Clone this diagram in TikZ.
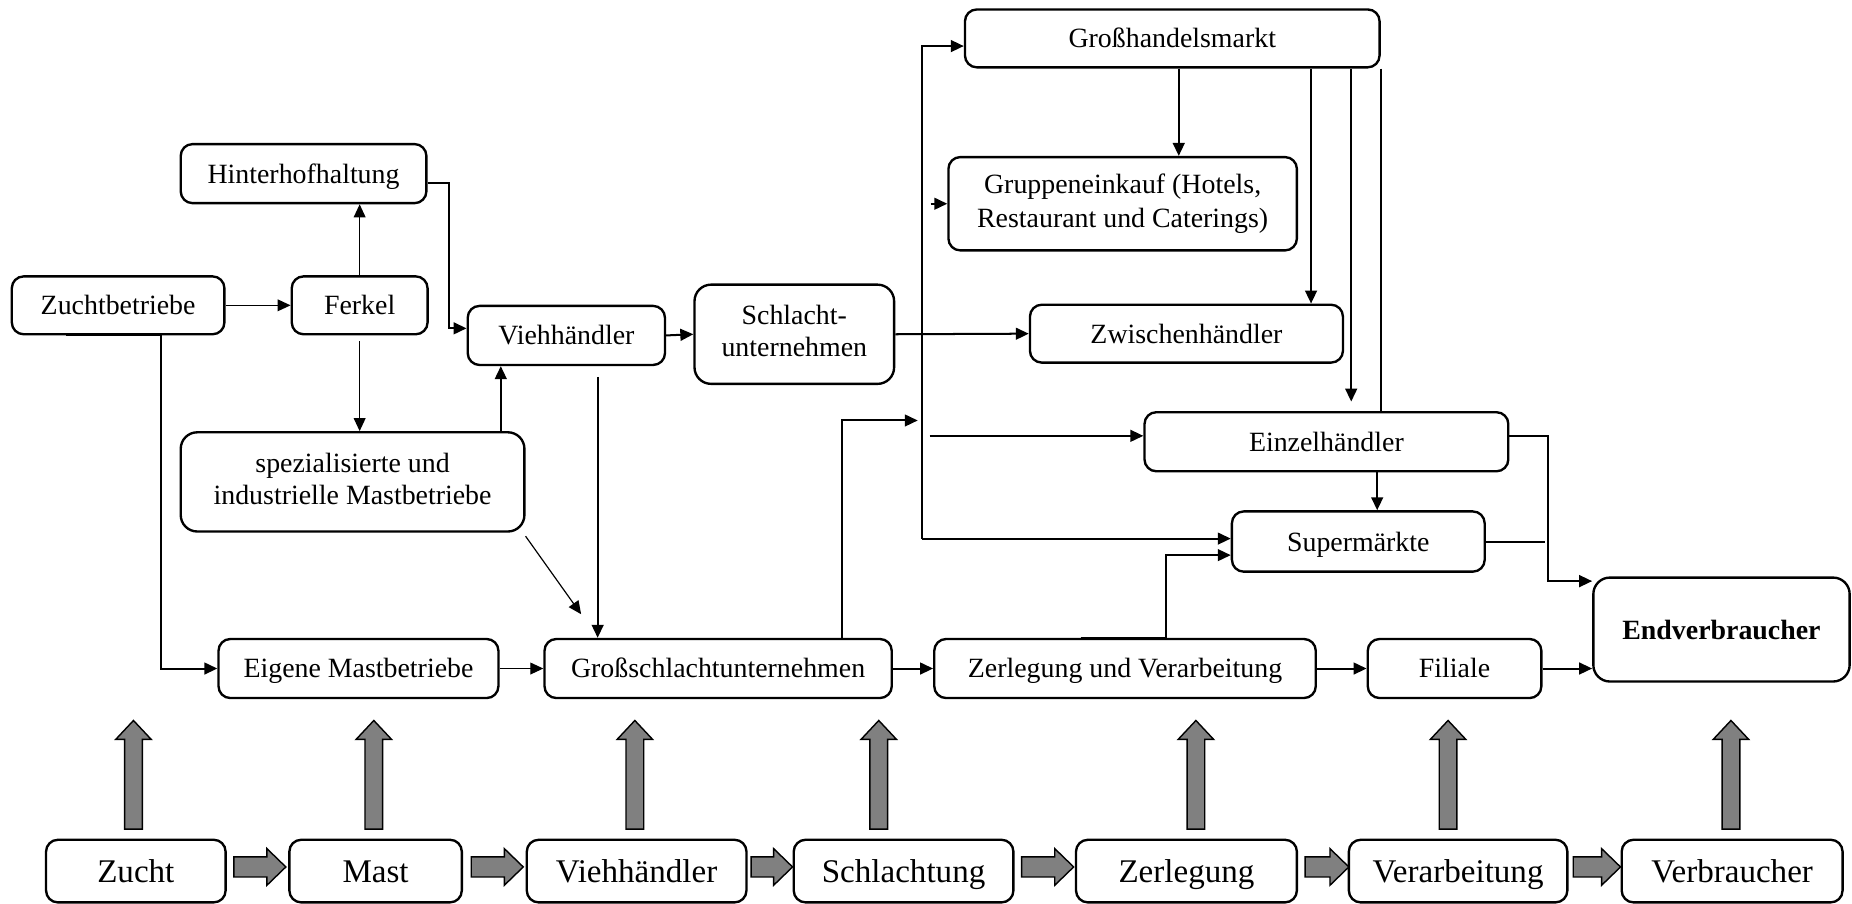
\documentclass[tikz,border=0pt]{standalone}
\usepackage{fontspec}
\setmainfont{Liberation Serif}
\usetikzlibrary{arrows.meta}
% invisible rule giving every line of a box the same height and depth
\newcommand\tstrut{\rule[-0.22em]{0pt}{1.12em}}
\tikzset{
  box/.style={draw, line width=1pt, rounded corners=5pt, inner sep=0pt, align=center,
    font=\fontsize{11.8}{13.5}\selectfont,
    execute at begin node={\tstrut}, execute at end node={\tstrut}},
  stage/.style={font=\fontsize{14}{16}\selectfont},
  ln/.style={line width=0.85pt},
  arr/.style={ln, -{Triangle[length=5.5pt,width=5pt]}},
  thinarr/.style={line width=0.5pt, -{Triangle[length=5.5pt,width=5pt]}},
  fat/.style={draw, line width=0.6pt, fill=black!50, line join=miter},
}
% box from corner (x1,y1) to (x2,y2), in 0.5pt units, y downwards
\newcommand\bx[7][]{\node[box,#1,minimum width={(#5-#3)*0.5pt},minimum height={(#6-#4)*0.5pt}]
  (#2) at ({(#3+#5)/2},{(#4+#6)/2}) {#7};}
% broad grey arrow pointing up, base centre at #1
\newcommand\upfat[1]{\draw[fat] (#1) ++(-7.5,0) -- ++(0,-76) -- ++(-7.5,0) -- ++(15,-16)
  -- ++(15,16) -- ++(-7.5,0) -- ++(0,76) -- cycle;}
% broad grey arrow pointing right, starting at #1 with length #2
\newcommand\rightfat[2]{\draw[fat] (#1) ++(0,-8.5) -- ++({#2-16},0) -- ++(0,-7) -- ++(16,15.5)
  -- ++(-16,15.5) -- ++(0,-7) -- ++({16-#2},0) -- cycle;}
\begin{document}
\begin{tikzpicture}[x=0.5pt,y=-0.5pt]
\useasboundingbox (0,0) rectangle (1568,765);

% upper chain
\bx{gh}{817}{8}{1168}{57}{Großhandelsmarkt}
\bx{hh}{153}{122}{361}{172}{Hinterhofhaltung}
\bx[font=\fontsize{11.8}{14.5}\selectfont]{gr}{803}{133}{1098}{212}{Gruppeneinkauf (Hotels,\\Restaurant und Caterings)}
\bx{zb}{10}{234}{190}{283}{Zuchtbetriebe}
\bx{fk}{247}{234}{362}{283}{Ferkel}
\bx{vh}{396}{259}{563}{309}{Viehhändler}
\bx[rounded corners=7pt]{su}{588}{241}{757}{325}{Schlacht-\\unternehmen}
\bx{zw}{872}{258}{1137}{307}{Zwischenhändler}
\bx[rounded corners=7pt]{sp}{153}{366}{444}{450}{spezialisierte und\\industrielle Mastbetriebe}
\bx{ez}{969}{349}{1277}{399}{Einzelhändler}
\bx{sm}{1043}{433}{1257}{484}{Supermärkte}
\bx[rounded corners=7pt]{ev}{1349}{489}{1566}{577}{\bfseries Endverbraucher}
\bx{eig}{185}{541}{422}{591}{Eigene Mastbetriebe}
\bx{gs}{461}{541}{755}{591}{Großschlachtunternehmen}
\bx{zl}{791}{541}{1114}{591}{Zerlegung und Verarbeitung}
\bx{fi}{1158}{541}{1305}{591}{Filiale}

% stages
\bx[stage]{b1}{39}{711}{191}{764}{Zucht}
\bx[stage]{b2}{245}{711}{391}{764}{Mast}
\bx[stage]{b3}{446}{711}{632}{764}{Viehhändler}
\bx[stage]{b4}{672}{711}{858}{764}{Schlachtung}
\bx[stage]{b5}{911}{711}{1098}{764}{Zerlegung}
\bx[stage]{b6}{1142}{711}{1327}{764}{Verarbeitung}
\bx[stage]{b7}{1373}{711}{1560}{764}{Verbraucher}

% left part
\draw[thinarr] (zb.east) -- (fk.west);
\draw[thinarr] (fk.north) -- (fk.north |- hh.south);
\draw[thinarr] ([yshift=-2.5pt]fk.south) -- (fk.south |- sp.north);
\draw[arr] ([yshift=-4pt]hh.east) -- ++(18,0) |- ([yshift=3pt]vh.west);
\path ([xshift=-10.5pt]sp.north east) coordinate (spup);
\draw[arr] (spup) -- (spup |- vh.south);
\draw[arr] ([xshift=23.5pt]zb.south west) -- ([xshift=63.5pt]zb.south west) |- (eig.west);
\draw[thinarr] (eig.east) -- (gs.west);
\draw[thinarr] ([yshift=-1.5pt]sp.south east) -- ([xshift=16pt,yshift=10pt]gs.north west);
\path ([xshift=13.25pt,yshift=-4.5pt]vh.south) coordinate (vhdown);
\draw[arr] (vhdown) -- (vhdown |- gs.north);
\draw[arr] (vh.east) -- (su.west);
\draw[arr] (su.east) -- (zw.west);

% distribution line
\coordinate (busmid) at (781,356);
\coordinate (busbot) at (781,456);
\coordinate (busr) at (787,369);
\draw[arr, shorten >=2pt] ([xshift=52.5pt]gs.north) |- (busmid);
\draw[arr] (busbot) |- ([yshift=-3.25pt]gh.west);
\draw[arr] (busbot) -- (busbot -| sm.west);
\draw[arr] ([xshift=-7pt]gr.west) -- (gr.west);
\draw[arr] (busr) -- (busr -| ez.west);

% from the wholesale market
\path ([xshift=2.75pt]gh.south) coordinate (g1);
\draw[arr] (g1) -- (g1 |- gr.north);
\path ([xshift=-29.5pt]gh.south east) coordinate (g2);
\draw[arr] (g2) -- (g2 |- zw.north);
\path ([xshift=-12.5pt]gh.south east) coordinate (g3);
\draw[arr, shorten >=4pt] (g3) -- (g3 |- ez.north);
\draw[ln] (gh.south east) -- (gh.south east |- ez.north);

% retail
\path ([xshift=21.5pt]ez.south) coordinate (e2);
\draw[arr] (e2) -- (e2 |- sm.north);
\draw[arr] ([yshift=2.5pt]ez.east) -- ++(33,0) |- ([yshift=-2pt]ev.north west);
\draw[ln] (sm.east) -- ++(50,0);

% lower chain
\draw[arr] (gs.east) -- (zl.west);
\path ([xshift=17.25pt]zl.north) coordinate (z1);
\draw[arr] ([xshift=-36pt]z1) -- (z1) |- ([yshift=-5.75pt]sm.west);
\draw[arr] (zl.east) -- (fi.west);
\draw[arr] (fi.east) -- (fi.east -| ev.west);

% broad grey arrows
\upfat{[xshift=-1pt,yshift=4pt]b1.north}
\upfat{[xshift=-0.75pt,yshift=4pt]b2.north}
\upfat{[xshift=-0.75pt,yshift=4pt]b3.north}
\upfat{[xshift=-10.5pt,yshift=4pt]b4.north}
\upfat{[xshift=4pt,yshift=4pt]b5.north}
\upfat{[xshift=-4.25pt,yshift=4pt]b6.north}
\upfat{[xshift=-0.5pt,yshift=4pt]b7.north}
\rightfat{[xshift=3pt,yshift=1.75pt]b1.east}{44}
\rightfat{[xshift=3.5pt,yshift=1.75pt]b2.east}{44}
\rightfat{[xshift=1.5pt,yshift=1.75pt]b3.east}{35}
\rightfat{[xshift=3pt,yshift=1.75pt]b4.east}{44}
\rightfat{[xshift=3pt,yshift=1.75pt]b5.east}{37}
\rightfat{[xshift=2pt,yshift=1.75pt]b6.east}{40}
\end{tikzpicture}
\end{document}
